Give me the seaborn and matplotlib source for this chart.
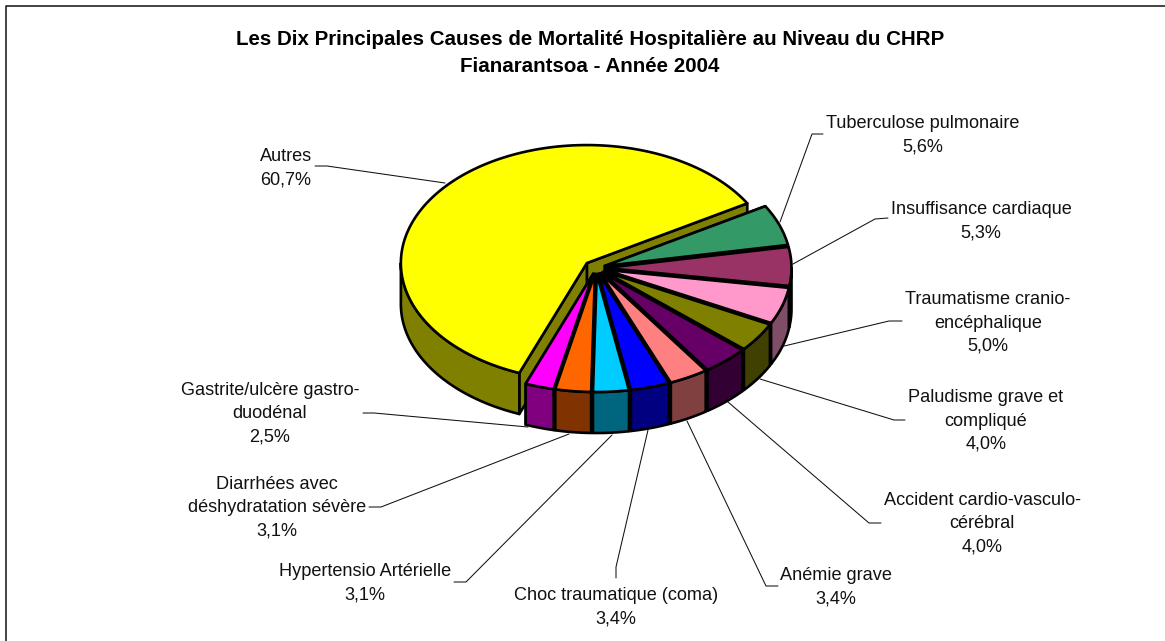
import numpy as np
import matplotlib
matplotlib.use('Agg')
import matplotlib.pyplot as plt
from matplotlib.patches import Polygon
import seaborn as sns

causes = ['Tuberculose pulmonaire', 'Insuffisance cardiaque',
          'Traumatisme cranio-\nencéphalique', 'Paludisme grave et\ncompliqué',
          'Accident cardio-vasculo-\ncérébral', 'Anémie grave',
          'Choc traumatique (coma)', 'Hypertensio Artérielle',
          'Diarrhées avec\ndéshydratation sévère', 'Gastrite/ulcère gastro-\nduodénal',
          'Autres']
shares = [5.6, 5.3, 5.0, 4.0, 4.0, 3.4, 3.4, 3.1, 3.1, 2.5, 60.7]
colors = ['#339966', '#993366', '#FF99CC', '#808000', '#660066', '#FF8080',
          '#0000FF', '#00CCFF', '#FF6600', '#FF00FF', '#FFFF00']
explode = [9.5] * 10 + [12.0]

title_lines = 'Les Dix Principales Causes de Mortalité Hospitalière au Niveau du CHRP\nFianarantsoa - Année 2004'

# ---- layout, in pixels of the 1165x641 picture ----
label_pos = [(923, 135), (981, 221), (988, 323), (986, 421), (982, 524), (836, 587),
             (616, 607), (365, 583), (277, 508), (270, 414), (286, 168)]
leaders = [[(823, 134), (812, 134), (780, 222)],
           [(888, 218), (875, 219), (793, 264)],
           [(902, 321), (889, 321), (780, 347)],
           [(905, 420), (894, 420), (760, 379)],
           [(881, 523), (869, 523), (728, 402)],
           [(778, 586), (766, 586), (687, 421)],
           [(616, 578), (616, 567), (648, 430)],
           [(454, 582), (466, 582), (612, 435)],
           [(369, 507), (381, 507), (569, 434)],
           [(363, 413), (374, 413), (528, 427)],
           [(315, 166), (327, 166), (445, 183)]]
cx, cy = 596, 268
rx, ry = 186, 118
depth = 41
start_angle = 30.4

sns.set_theme(style='white')
plt.rcParams['font.family'] = ['Liberation Sans', 'DejaVu Sans']

fig = plt.figure(figsize=(11.65, 6.41), dpi=100)
ax = fig.add_axes([0, 0, 1, 1])
ax.set_xlim(0, 1165)
ax.set_ylim(641, 0)
ax.axis('off')

ax.plot([6, 6, 1165], [641, 6, 6], color='#111111', lw=1.1)


def dark(c):
    return tuple(v * 0.5 for v in matplotlib.colors.to_rgb(c))


def arc(x0, y0, a, b, n=80):
    t = np.radians(np.linspace(a, b, n))
    return np.column_stack([x0 + rx * np.cos(t), y0 - ry * np.sin(t)])


# slices run clockwise from the start angle
sweeps = np.array(shares) / sum(shares) * 360
ends = start_angle - np.cumsum(sweeps)
begins = ends + sweeps
mids = (begins + ends) / 2

# back to front, so nearer slices paint over the ones behind
order = np.argsort(-np.sin(np.radians(mids)))
z = 3
edge = dict(edgecolor='black', lw=1.9, joinstyle='round')
for i in order:
    m = np.radians(mids[i])
    x0 = cx + explode[i] * np.cos(m)
    y0 = cy - explode[i] * ry / rx * np.sin(m)
    lo, hi = ends[i], begins[i]

    # cut walls from the apex to each end of the arc
    for a in (lo, hi):
        p = arc(x0, y0, a, a, 1)[0]
        wall = [(x0, y0), tuple(p), (p[0], p[1] + depth), (x0, y0 + depth)]
        ax.add_patch(Polygon(wall, facecolor=dark(colors[i]), zorder=z, **edge))

    # outer rim, only the part that faces the viewer
    for k in (-1, 0):
        a = max(lo, 180 + 360 * k)
        b = min(hi, 360 + 360 * k)
        if b > a:
            top = arc(x0, y0, a, b)
            low = top[::-1] + [0, depth]
            ax.add_patch(Polygon(np.vstack([top, low]), facecolor=dark(colors[i]), zorder=z, **edge))

    pts = np.vstack([[(x0, y0)], arc(x0, y0, lo, hi, 160)])
    ax.add_patch(Polygon(pts, facecolor=colors[i], zorder=z, **edge))
    z += 1

for name, share, (lx, ly), path in zip(causes, shares, label_pos, leaders):
    ax.plot(*zip(*path), color='#111111', lw=0.75, zorder=2, solid_joinstyle='miter')
    ax.text(lx, ly, f"{name}\n{share:.1f}%".replace('.', ','), ha='center', va='center',
            fontsize=13.1, color='#111111', linespacing=1.48, zorder=30)

ax.text(590, 53, title_lines, ha='center', va='center', fontsize=14.75, fontweight='bold',
        color='black', linespacing=1.55)

plt.savefig('out.png', dpi=100)
plt.close()
